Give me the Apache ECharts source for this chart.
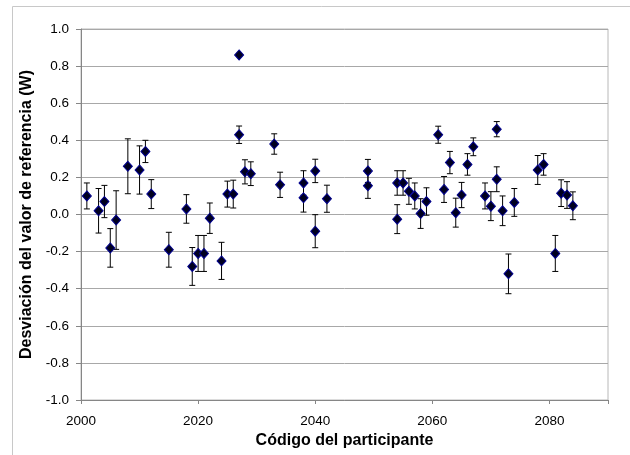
<!DOCTYPE html>
<html>
<head>
<meta charset="utf-8">
<script src="https://cdn.jsdelivr.net/npm/echarts@6/dist/echarts.min.js"></script>
<style>
html,body{margin:0;padding:0;background:#fff;}
#chart{width:630px;height:455px;}
</style>
</head>
<body>
<div id="chart"></div>
<script>
// Participant codes, deviation values (W) and error half-widths (W)
var codes = [2001,2003,2004,2005,2006,2008,2010,2011,2012,2015,2018,2019,2020,2021,2022,2024,2025,2026,2027,2027,2028,2029,2033,2034,2038,2038,2040,2040,2042,2049,2049,2054,2054,2055,2056,2057,2058,2059,2061,2062,2063,2064,2065,2066,2067,2069,2070,2071,2071,2072,2073,2074,2078,2079,2081,2082,2083,2084];
var values = [0.10,0.02,0.07,-0.18,-0.03,0.26,0.24,0.34,0.11,-0.19,0.03,-0.28,-0.21,-0.21,-0.02,-0.25,0.11,0.11,0.86,0.43,0.23,0.22,0.38,0.16,0.17,0.09,0.235,-0.09,0.085,0.235,0.155,0.17,-0.025,0.17,0.125,0.10,0.005,0.07,0.43,0.135,0.28,0.01,0.105,0.27,0.365,0.10,0.045,0.19,0.46,0.02,-0.32,0.065,0.24,0.27,-0.21,0.115,0.105,0.047];
var errors = [0.07,0.12,0.087,0.104,0.158,0.148,0.13,0.06,0.078,0.094,0.077,0.102,0.097,0.097,0.082,0.10,0.07,0.075,0.005,0.047,0.065,0.064,0.055,0.068,0.066,0.077,0.063,0.089,0.073,0.062,0.068,0.066,0.078,0.066,0.07,0.07,0.08,0.074,0.046,0.07,0.06,0.078,0.068,0.058,0.048,0.07,0.078,0.067,0.041,0.08,0.107,0.075,0.078,0.058,0.097,0.072,0.072,0.075];
var yTicks = [-1.0,-0.8,-0.6,-0.4,-0.2,0.0,0.2,0.4,0.6,0.8,1.0];
var xTicks = [2000,2020,2040,2060,2080];
var xTitle = 'Código del participante';
var yTitle = 'Desviación del valor de referencia (W)';

var pts = codes.map(function(c,i){ return [c, values[i]]; });
var bars = codes.map(function(c,i){ return [c, values[i]-errors[i], values[i]+errors[i]]; });

var font = '"Liberation Sans", Arial, sans-serif';
var chart = echarts.init(document.getElementById('chart'), null, {renderer:'canvas'});
chart.setOption({
  animation:false,
  backgroundColor:'#fff',
  graphic:[{type:'rect', left:10, top:4, shape:{width:640, height:449}, style:{fill:'none', stroke:'#c8c8c8', lineWidth:1}, silent:true, z:-1}],
  grid:{left:81, top:29, right:22, bottom:55, containLabel:false, outerBoundsMode:'none',
    show:true, borderColor:'#b8b8b8', borderWidth:1, backgroundColor:'transparent'},
  xAxis:{type:'value', min:xTicks[0], max:2090, interval:20,
    name:xTitle, nameLocation:'middle', nameGap:33,
    nameTextStyle:{fontFamily:font, fontSize:16, fontWeight:'bold', color:'#000'},
    axisLine:{show:true, onZero:false, lineStyle:{color:'#868686', width:1}},
    axisTick:{show:true, inside:false, length:4, lineStyle:{color:'#868686'}},
    axisLabel:{fontFamily:font, fontSize:13.5, color:'#000', margin:14,
      formatter:function(v){ return xTicks.indexOf(v)>=0 ? String(v) : ''; }},
    splitLine:{show:false}},
  yAxis:{type:'value', min:yTicks[0], max:yTicks[yTicks.length-1], interval:0.2,
    name:yTitle, nameLocation:'middle', nameGap:46, nameRotate:90,
    nameTextStyle:{fontFamily:font, fontSize:16, fontWeight:'bold', color:'#000'},
    axisLine:{show:true, onZero:false, lineStyle:{color:'#868686', width:1}},
    axisTick:{show:true, inside:false, length:5, lineStyle:{color:'#868686'}},
    axisLabel:{fontFamily:font, fontSize:13.5, color:'#000', margin:12,
      formatter:function(v){ return v.toFixed(1); }},
    splitLine:{show:true, lineStyle:{color:'#a8a8a8', width:1}}},
  series:[
    {type:'custom', data:bars, z:2,
     renderItem:function(params, api){
       var x = api.value(0);
       var lo = api.coord([x, api.value(1)]);
       var hi = api.coord([x, api.value(2)]);
       var cw = 3;
       var st = {stroke:'#000', lineWidth:1};
       return {type:'group', children:[
         {type:'line', shape:{x1:lo[0], y1:lo[1], x2:hi[0], y2:hi[1]}, style:st},
         {type:'line', shape:{x1:lo[0]-cw, y1:lo[1], x2:lo[0]+cw, y2:lo[1]}, style:st},
         {type:'line', shape:{x1:hi[0]-cw, y1:hi[1], x2:hi[0]+cw, y2:hi[1]}, style:st}
       ]};
     }},
    {type:'scatter', data:pts, z:3, symbol:'diamond', symbolSize:[9,10],
     itemStyle:{color:'#000020', borderColor:'#000090', borderWidth:1, opacity:1}}
  ]
});
</script>
</body>
</html>
